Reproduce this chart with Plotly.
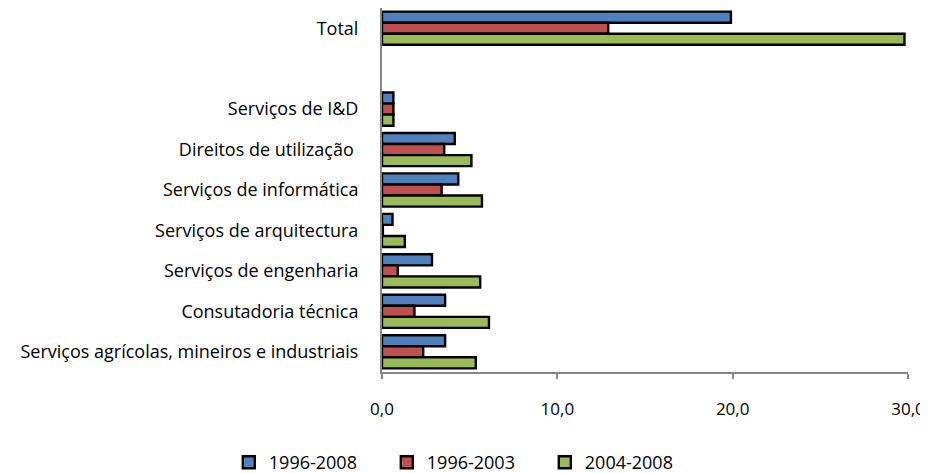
import plotly.graph_objects as go

categories = [
    "Total",
    " ",
    "Serviços de I&D",
    "Direitos de utilização ",
    "Serviços de informática",
    "Serviços de arquitectura",
    "Serviços de engenharia",
    "Consutadoria técnica",
    "Serviços agrícolas, mineiros e industriais",
]
series_names = ["1996-2008", "1996-2003", "2004-2008"]
v_1996_2008 = [19.9, None, 0.65, 4.15, 4.35, 0.6, 2.85, 3.6, 3.6]
v_1996_2003 = [12.9, None, 0.65, 3.55, 3.4, 0.05, 0.9, 1.85, 2.35]
v_2004_2008 = [29.8, None, 0.65, 5.1, 5.7, 1.3, 5.6, 6.1, 5.35]
colors = ["#4F81BD", "#C0504D", "#9BBB59"]

fig = go.Figure()
for name, vals, col in zip(series_names, [v_1996_2008, v_1996_2003, v_2004_2008], colors):
    fig.add_trace(go.Bar(
        y=categories, x=vals, name=name, orientation="h",
        marker=dict(color=col, line=dict(color="black", width=2.4)),
    ))

fig.update_layout(
    width=920, height=473,
    margin=dict(l=374, r=20, t=0, b=109, autoexpand=False),
    paper_bgcolor="white", plot_bgcolor="white",
    font=dict(family="Open Sans", size=18, color="black"),
    barmode="group", bargap=0.18, bargroupgap=0,
    separators=",.",
    showlegend=True,
    legend=dict(orientation="h", x=0.24, xanchor="left", xref="container",
                y=0, yanchor="bottom", yref="container",
                entrywidth=113, entrywidthmode="pixels",
                font=dict(size=18), traceorder="normal"),
)
fig.update_xaxes(range=[0, 30], tickvals=[0, 10, 20, 30], tickformat=".1f",
                 tickfont=dict(size=17),
                 showgrid=False, zeroline=False, showline=True, linecolor="#868686",
                 linewidth=2, ticks="outside", ticklen=5, tickcolor="#868686", tickwidth=2,
                 ticklabelstandoff=16, automargin=False)
fig.update_yaxes(type="category", categoryorder="array", categoryarray=categories,
                 autorange="reversed", showgrid=False, zeroline=False, showline=True,
                 linecolor="#868686", linewidth=2, ticks="", ticklabelstandoff=18,
                 automargin=False)

fig.write_html("out.html")
